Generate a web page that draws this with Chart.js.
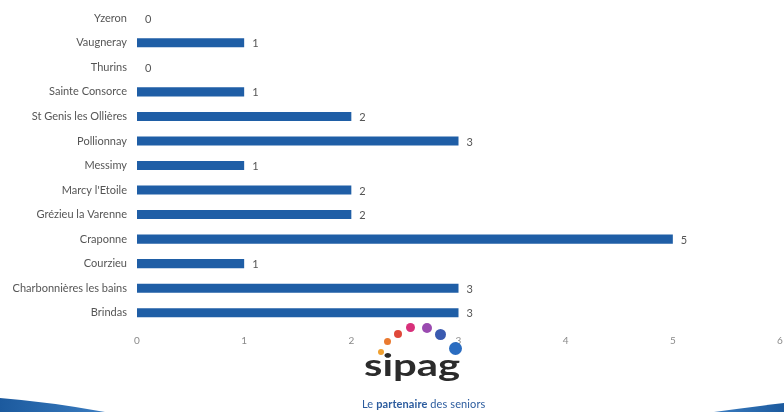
<!DOCTYPE html>
<html>
<head>
<meta charset="utf-8">
<script src="https://cdn.jsdelivr.net/npm/chart.js@4"></script>
<style>
  html, body { margin: 0; padding: 0; background: #fff; }
  #page { position: relative; width: 784px; height: 412px; overflow: hidden; }
  #wrap { position: absolute; left: 0; top: 0; width: 784px; height: 352px; }
  .dot { position: absolute; border-radius: 50%; }
  #brand { position: absolute; left: 364px; top: 349px; font-family: "Lato", sans-serif; font-weight: 700; font-size: 31px; color: #2b2b2b; line-height: 31px; transform: scaleX(1.35); transform-origin: left top; }
  #tag { position: absolute; left: 362px; top: 397px; font-family: "Lato", sans-serif; font-size: 11px; color: #2c5c9e; white-space: nowrap; letter-spacing: 0.1px; }
  #tag b { font-weight: 700; }
  #swoosh { position: absolute; left: 0; top: 0; }
</style>
</head>
<body>
<div id="page">
  <div id="wrap"><canvas id="chart"></canvas></div>
  <svg id="swoosh" width="784" height="412">
    <defs>
      <linearGradient id="gl" x1="0" x2="1" y1="0" y2="0">
        <stop offset="0" stop-color="#1c5a9e"/>
        <stop offset="1" stop-color="#3a7cc0"/>
      </linearGradient>
      <linearGradient id="gr" x1="1" x2="0" y1="0" y2="0">
        <stop offset="0" stop-color="#1c5a9e"/>
        <stop offset="1" stop-color="#3a7cc0"/>
      </linearGradient>
    </defs>
    <path d="M0,398 Q50,402 105,412 L0,412 Z" fill="url(#gl)"/>
    <path d="M784,403 Q750,407 714,412 L784,412 Z" fill="url(#gr)"/>
  </svg>
  <div class="dot" style="left:378px;top:349px;width:6px;height:6px;background:#f0a030"></div>
  <div class="dot" style="left:384px;top:338px;width:7px;height:7px;background:#ea7a30"></div>
  <div class="dot" style="left:394px;top:330px;width:8px;height:8px;background:#e0483a"></div>
  <div class="dot" style="left:406px;top:323px;width:9px;height:9px;background:#d8307a"></div>
  <div class="dot" style="left:422px;top:323px;width:10px;height:10px;background:#9a4ab0"></div>
  <div class="dot" style="left:435px;top:329px;width:11px;height:11px;background:#3a5ab0"></div>
  <div class="dot" style="left:449px;top:342px;width:13px;height:13px;background:#2a6cc0"></div>
  <div id="brand">sipag</div>
  <div id="tag">Le <b>partenaire</b> des seniors</div>
</div>
<script>
const communes = ['Yzeron', 'Vaugneray', 'Thurins', 'Sainte Consorce', 'St Genis les Ollières',
  'Pollionnay', 'Messimy', "Marcy l'Etoile", 'Grézieu la Varenne', 'Craponne', 'Courzieu',
  'Charbonnières les bains', 'Brindas'];
const nombres = [0, 1, 0, 1, 2, 3, 1, 2, 2, 5, 1, 3, 3];
const xTicks = [0, 1, 2, 3, 4, 5, 6];

// valeurs écrites au bout de chaque barre
const valeurs = {
  id: 'valeurs',
  afterDatasetsDraw(chart) {
    const ctx = chart.ctx;
    const meta = chart.getDatasetMeta(0);
    ctx.save();
    ctx.font = '11px Lato';
    ctx.fillStyle = '#555';
    ctx.textBaseline = 'middle';
    meta.data.forEach((bar, i) => {
      ctx.fillText(String(nombres[i]), bar.x + 8, bar.y + 1);
    });
    ctx.restore();
  }
};

new Chart(document.getElementById('chart'), {
  type: 'bar',
  data: {
    labels: communes,
    datasets: [{
      data: nombres,
      backgroundColor: '#1f5ea6',
      barPercentage: 0.37,
      categoryPercentage: 1
    }]
  },
  options: {
    indexAxis: 'y',
    responsive: true,
    maintainAspectRatio: false,
    animation: false,
    layout: { padding: { top: 6, right: 4, left: 0, bottom: 0 } },
    plugins: { legend: { display: false }, tooltip: { enabled: false } },
    scales: {
      x: {
        min: 0, max: 6,
        afterBuildTicks: s => { s.ticks = xTicks.map(v => ({ value: v })); },
        afterFit: s => { s.height = 27; s.paddingLeft = 0; s.paddingRight = 0; },
        grid: { display: false, drawTicks: false },
        border: { display: false },
        ticks: { color: '#8a8a8a', font: { family: 'Lato', size: 10 }, padding: 10 }
      },
      y: {
        afterFit: s => { s.width = 137; s.paddingTop = 0; s.paddingBottom = 0; },
        grid: { display: false, drawTicks: false },
        border: { display: false },
        ticks: { color: '#555', font: { family: 'Lato', size: 11 }, padding: 10 }
      }
    }
  },
  plugins: [valeurs]
});
</script>
</body>
</html>
